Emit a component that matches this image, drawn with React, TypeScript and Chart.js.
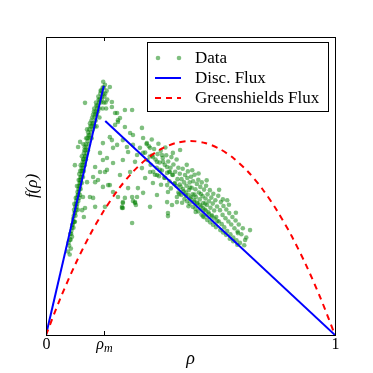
import React, { useEffect, useRef } from 'react';
import { Chart, registerables } from 'chart.js';
Chart.register(...registerables);

// ---- data ----
const rhoM = 0.2;
const discLeft: [number, number][] = [[0, 0], [0.2, 0.836]];
const discRight: [number, number][] = [[0.205, 0.718], [1, 0]];

const greenRho = [0, 0.05, 0.1, 0.15, 0.2, 0.25, 0.3, 0.35, 0.4, 0.45, 0.5, 0.55, 0.6, 0.65, 0.7, 0.75, 0.8, 0.85, 0.9, 0.95, 1];
const greenF = [0, 0.1237, 0.2344, 0.332, 0.4166, 0.4883, 0.5468, 0.5924, 0.625, 0.6445, 0.651, 0.6445, 0.625, 0.5924, 0.5468, 0.4883, 0.4166, 0.332, 0.2344, 0.1237, 0];

const leftBranch: [number, number][] = [
  [0.080,0.30],[0.085,0.32],[0.090,0.33],[0.088,0.35],[0.095,0.36],[0.092,0.37],[0.098,0.38],[0.094,0.39],[0.102,0.40],[0.099,0.41],
  [0.104,0.42],[0.110,0.42],[0.101,0.43],[0.108,0.44],[0.112,0.45],[0.105,0.45],[0.115,0.46],[0.110,0.47],[0.118,0.47],[0.114,0.48],
  [0.120,0.49],[0.112,0.49],[0.118,0.50],[0.124,0.51],[0.116,0.51],[0.121,0.52],[0.128,0.53],[0.119,0.53],[0.125,0.54],[0.131,0.55],
  [0.123,0.55],[0.128,0.56],[0.134,0.57],[0.126,0.57],[0.132,0.58],[0.138,0.59],[0.130,0.59],[0.135,0.60],[0.141,0.61],[0.137,0.62],
  [0.145,0.62],[0.140,0.63],[0.148,0.64],[0.144,0.65],[0.152,0.66],[0.158,0.66],[0.150,0.67],[0.156,0.68],[0.162,0.69],[0.158,0.70],
  [0.168,0.70],[0.164,0.71],[0.172,0.72],[0.168,0.73],[0.176,0.74],[0.180,0.75],[0.172,0.75],[0.185,0.76],[0.178,0.77],[0.190,0.78],
  [0.186,0.79],[0.194,0.80],[0.198,0.81],[0.192,0.82],[0.200,0.83],[0.205,0.81],[0.200,0.78],[0.196,0.76],[0.185,0.73],[0.175,0.70],
  [0.084,0.34],[0.090,0.36],[0.096,0.40],[0.100,0.38],[0.106,0.43],[0.103,0.46],[0.109,0.48],[0.116,0.49],[0.113,0.52],[0.122,0.53],
  [0.118,0.55],[0.127,0.58],[0.124,0.60],[0.133,0.62],[0.130,0.64],[0.139,0.66],[0.146,0.68],[0.142,0.69],[0.152,0.71],[0.160,0.73],
  [0.166,0.75],[0.174,0.77],[0.182,0.79],[0.188,0.81],[0.196,0.83],[0.204,0.84],[0.098,0.44],[0.107,0.50],[0.115,0.54],[0.120,0.57],
  [0.086,0.29],[0.078,0.31],[0.082,0.27],[0.076,0.28],
  [0.083,0.32],[0.087,0.34],[0.091,0.37],[0.095,0.38],[0.097,0.42],[0.101,0.41],[0.104,0.44],[0.107,0.46],[0.111,0.47],[0.113,0.50],
  [0.117,0.52],[0.119,0.51],[0.123,0.56],[0.126,0.55],[0.129,0.59],[0.131,0.61],[0.134,0.63],[0.136,0.60],[0.138,0.64],[0.143,0.66],
  [0.147,0.67],[0.150,0.69],[0.154,0.70],[0.157,0.72],[0.161,0.71],[0.163,0.74],[0.167,0.76],[0.170,0.74],[0.173,0.78],[0.177,0.76],
  [0.181,0.80],[0.184,0.78],[0.189,0.82],[0.193,0.79],[0.198,0.85],[0.202,0.80],[0.206,0.78],[0.210,0.82],[0.208,0.76],[0.212,0.79],
];

const scattered: [number, number][] = [
  [0.135,0.779],[0.221,0.832],[0.228,0.782],[0.239,0.745],[0.249,0.721],[0.221,0.664],[0.232,0.628],[0.197,0.644],[0.187,0.611],[0.211,0.594],
  [0.118,0.648],[0.111,0.631],[0.100,0.570],
  [0.170,0.564],[0.187,0.547],[0.204,0.547],[0.163,0.530],[0.142,0.513],[0.170,0.513],[0.197,0.497],[0.215,0.503],[0.232,0.480],
  [0.152,0.463],[0.163,0.460],[0.170,0.430],[0.204,0.430],[0.135,0.426],[0.125,0.419],[0.131,0.396],
  [0.197,0.587],[0.211,0.554],[0.180,0.520],[0.221,0.503],[0.128,0.463],[0.249,0.463],[0.273,0.460],[0.315,0.463],[0.263,0.430],
  [0.308,0.443],[0.298,0.376],[0.360,0.430],
  [0.266,0.446],[0.301,0.450],[0.311,0.436],[0.266,0.426],[0.419,0.446],[0.436,0.436],[0.422,0.409],[0.422,0.399],[0.453,0.446],
  [0.228,0.765],[0.246,0.745],[0.273,0.755],[0.298,0.755],[0.256,0.728],[0.249,0.715],[0.239,0.705],[0.273,0.698],[0.291,0.678],
  [0.301,0.671],[0.336,0.661],[0.332,0.695],[0.266,0.654],[0.228,0.654],[0.246,0.638],[0.280,0.631],[0.301,0.638],[0.325,0.628],
  [0.349,0.644],[0.360,0.628],[0.284,0.614],[0.315,0.604],[0.336,0.611],[0.266,0.587],[0.308,0.581],[0.232,0.577],[0.370,0.597],
  [0.401,0.604],[0.384,0.581],[0.405,0.581],[0.419,0.564],[0.394,0.554],[0.429,0.547],[0.439,0.537],[0.384,0.537],[0.412,0.527],
  [0.360,0.547],[0.332,0.560],[0.256,0.537],[0.291,0.547],[0.343,0.527],[0.370,0.510],[0.419,0.503],[0.446,0.510],[0.284,0.493],
  [0.318,0.493],[0.336,0.477],[0.384,0.470],[0.422,0.480],[0.453,0.463],[0.298,0.463],[0.266,0.443],[0.308,0.446],[0.263,0.426],
  [0.464,0.621],[0.706,0.352],[0.689,0.319],[0.664,0.342],
];

const rightBranch: [number, number][] = [
  [0.343,0.612],[0.351,0.587],[0.356,0.633],[0.362,0.571],[0.367,0.602],[0.371,0.548],[0.374,0.624],[0.379,0.589],[0.383,0.561],[0.386,0.607],
  [0.391,0.533],[0.393,0.579],[0.397,0.618],[0.401,0.552],[0.404,0.594],[0.409,0.528],[0.411,0.571],[0.416,0.603],[0.419,0.544],[0.423,0.582],
  [0.427,0.516],[0.431,0.561],[0.434,0.597],[0.437,0.538],[0.441,0.572],[0.444,0.507],[0.447,0.548],[0.452,0.589],[0.455,0.523],[0.458,0.561],
  [0.348,0.641],[0.366,0.656],[0.377,0.538],[0.389,0.642],[0.413,0.629],[0.426,0.548],[0.439,0.611],[0.398,0.504],[0.359,0.599],[0.432,0.492],
  [0.463,0.541],[0.466,0.497],[0.469,0.523],[0.473,0.558],[0.476,0.482],[0.478,0.512],[0.481,0.537],[0.484,0.468],[0.486,0.501],[0.489,0.527],
  [0.491,0.549],[0.494,0.486],[0.497,0.512],[0.499,0.458],[0.502,0.531],[0.504,0.494],[0.507,0.472],[0.509,0.516],[0.512,0.447],[0.514,0.538],
  [0.517,0.489],[0.519,0.463],[0.522,0.507],[0.524,0.441],[0.527,0.521],[0.529,0.478],[0.532,0.455],[0.534,0.497],[0.537,0.431],[0.539,0.512],
  [0.542,0.466],[0.544,0.443],[0.547,0.488],[0.549,0.421],[0.552,0.458],[0.554,0.501],[0.557,0.436],[0.559,0.472],[0.562,0.412],[0.564,0.449],
  [0.567,0.486],[0.569,0.427],[0.572,0.461],[0.574,0.402],[0.577,0.441],[0.579,0.474],[0.582,0.418],[0.471,0.444],[0.493,0.432],[0.518,0.413],
  [0.543,0.398],[0.487,0.571],[0.506,0.553],[0.528,0.542],[0.556,0.519],[0.461,0.473],[0.514,0.471],[0.498,0.495],[0.536,0.473],[0.551,0.441],
  [0.586,0.452],[0.589,0.396],[0.592,0.431],[0.596,0.467],[0.598,0.381],[0.602,0.419],[0.605,0.446],[0.608,0.372],[0.611,0.403],[0.614,0.433],
  [0.617,0.361],[0.621,0.392],[0.624,0.421],[0.627,0.349],[0.631,0.381],[0.634,0.409],[0.638,0.338],[0.641,0.371],[0.645,0.396],[0.648,0.327],
  [0.652,0.358],[0.656,0.384],[0.659,0.318],[0.663,0.347],[0.667,0.371],[0.671,0.309],[0.676,0.338],[0.681,0.358],[0.686,0.301],[0.693,0.327],
  [0.612,0.455],[0.633,0.437],[0.657,0.410],[0.599,0.487],[0.627,0.452],
  [0.452,0.500],[0.458,0.478],[0.463,0.505],[0.468,0.470],[0.474,0.490],[0.479,0.456],[0.483,0.478],[0.488,0.449],[0.492,0.470],[0.497,0.441],
  [0.503,0.462],[0.508,0.430],[0.513,0.452],[0.517,0.424],[0.523,0.444],[0.527,0.415],[0.533,0.437],[0.538,0.404],[0.543,0.426],[0.548,0.395],
  [0.553,0.418],[0.558,0.386],[0.563,0.407],[0.568,0.378],[0.573,0.398],[0.578,0.370],[0.583,0.391],[0.588,0.362],[0.593,0.382],[0.603,0.352],
  [0.613,0.344],[0.623,0.336],[0.636,0.323],[0.648,0.315],[0.662,0.303],
];

const xTickValues = [0, rhoM, 1];
const xTickMain = ['0', 'ρ', '1'];
const xTickSub = ['', 'm', ''];
const xAxisLabel = 'ρ';
const yAxisLabel = 'f(ρ)';
const legendLabels = ['Data', 'Disc. Flux', 'Greenshields Flux'];

const GREEN = 'rgba(0,128,0,0.5)';
const BLUE = '#0000ff';
const RED = '#ff0000';
const SERIF = '"Liberation Serif", "DejaVu Serif", serif';

const overlay = {
  id: 'overlay',
  afterDraw(chart: any) {
    const { ctx, chartArea: a, scales } = chart;
    ctx.save();
    ctx.strokeStyle = '#000';
    ctx.lineWidth = 1;
    ctx.strokeRect(a.left + 0.5, a.top + 0.5, a.right - a.left, a.bottom - a.top);
    ctx.fillStyle = '#000';
    ctx.textBaseline = 'middle';
    xTickValues.forEach((v, i) => {
      const px = Math.round(scales.x.getPixelForValue(v)) + 0.5;
      ctx.beginPath();
      ctx.moveTo(px, a.bottom); ctx.lineTo(px, a.bottom - 4);
      ctx.moveTo(px, a.top); ctx.lineTo(px, a.top + 4);
      ctx.stroke();
      const main = xTickMain[i];
      const sub = xTickSub[i];
      const mainFont = (main === 'ρ' ? 'italic ' : '') + '16px ' + SERIF;
      const subFont = 'italic 12px ' + SERIF;
      ctx.font = mainFont;
      const wm = ctx.measureText(main).width;
      ctx.font = subFont;
      const ws = sub ? ctx.measureText(sub).width : 0;
      const x0 = px - (wm + ws) / 2;
      ctx.textAlign = 'left';
      ctx.font = mainFont;
      ctx.fillText(main, x0, a.bottom + 10);
      if (sub) {
        ctx.font = subFont;
        ctx.fillText(sub, x0 + wm, a.bottom + 14);
      }
    });
    ctx.textAlign = 'center';
    ctx.font = 'italic 18px ' + SERIF;
    ctx.fillText(xAxisLabel, (a.left + a.right) / 2, a.bottom + 24);
    ctx.save();
    ctx.translate(33, (a.top + a.bottom) / 2);
    ctx.rotate(-Math.PI / 2);
    ctx.font = 'italic 17px ' + SERIF;
    ctx.fillText(yAxisLabel, 0, 0);
    ctx.restore();
    // legend
    const lx = 147, ly = 42, lw = 181, lh = 69;
    ctx.fillStyle = '#fff';
    ctx.fillRect(lx, ly, lw, lh);
    ctx.strokeStyle = '#000';
    ctx.strokeRect(lx + 0.5, ly + 0.5, lw, lh);
    const rows = [58, 78, 98];
    ctx.fillStyle = GREEN;
    [158, 179].forEach((mx) => {
      ctx.beginPath(); ctx.arc(mx, rows[0], 2.3, 0, Math.PI * 2); ctx.fill();
    });
    ctx.lineWidth = 2;
    ctx.strokeStyle = BLUE;
    ctx.beginPath(); ctx.moveTo(155, rows[1]); ctx.lineTo(181, rows[1]); ctx.stroke();
    ctx.strokeStyle = RED;
    ctx.setLineDash([6, 5]);
    ctx.beginPath(); ctx.moveTo(155, rows[2]); ctx.lineTo(181, rows[2]); ctx.stroke();
    ctx.setLineDash([]);
    ctx.fillStyle = '#000';
    ctx.textAlign = 'left';
    ctx.font = '17px ' + SERIF;
    legendLabels.forEach((t, i) => ctx.fillText(t, 195, rows[i] + 1));
    ctx.restore();
  },
};

export default function App() {
  const ref = useRef<HTMLCanvasElement>(null);
  useEffect(() => {
    if (!ref.current) return;
    const pts = [...leftBranch, ...scattered, ...rightBranch].map(([x, y]) => ({ x, y }));
    const chart = new Chart(ref.current, {
      type: 'scatter',
      data: {
        datasets: [
          {
            label: legendLabels[2],
            data: greenRho.map((x, i) => ({ x, y: greenF[i] })),
            showLine: true,
            borderColor: RED,
            borderWidth: 2,
            borderDash: [6, 5],
            pointRadius: 0,
            tension: 0.3,
            order: 1,
          } as any,
          {
            label: legendLabels[1],
            data: discLeft.map(([x, y]) => ({ x, y })),
            showLine: true,
            borderColor: BLUE,
            borderWidth: 2,
            pointRadius: 0,
            order: 2,
          },
          {
            label: legendLabels[1],
            data: discRight.map(([x, y]) => ({ x, y })),
            showLine: true,
            borderColor: BLUE,
            borderWidth: 2,
            pointRadius: 0,
            order: 2,
          },
          {
            label: legendLabels[0],
            data: pts,
            pointRadius: 2.3,
            pointBackgroundColor: GREEN,
            pointBorderWidth: 0,
            pointBorderColor: 'rgba(0,0,0,0)',
            order: 10,
          },
        ],
      },
      options: {
        animation: false,
        responsive: false,
        layout: { padding: { left: 46, top: 37, right: 38, bottom: 38 } },
        plugins: { legend: { display: false }, tooltip: { enabled: false } },
        scales: {
          x: { type: 'linear', min: 0, max: 1, display: false },
          y: { type: 'linear', min: 0, max: 1, display: false },
        },
      },
      plugins: [overlay],
    });
    return () => chart.destroy();
  }, []);
  return (
    <div style={{ position: 'absolute', left: 0, top: 0, width: 373, height: 373, background: '#fff' }}>
      <canvas ref={ref} width={373} height={373} style={{ display: 'block', width: 373, height: 373 }} />
    </div>
  );
}
